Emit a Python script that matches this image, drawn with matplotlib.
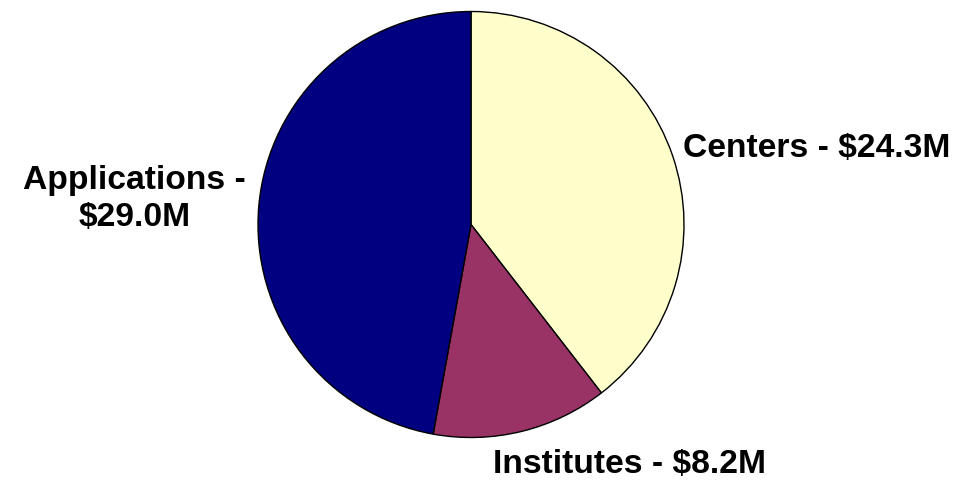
import matplotlib.pyplot as plt

# Funding by program type ($M)
categories = ['Centers', 'Institutes', 'Applications']
values = [24.3, 8.2, 29.0]
colors = ['#FFFFCC', '#993366', '#000080']

W, H = 967, 482
fig = plt.figure(figsize=(W / 100, H / 100), dpi=100)

# pie centre and radius in pixels
cx, cy, r = 471, 224.5, 213
ax = fig.add_axes([(cx - r) / W, (H - cy - r) / H, 2 * r / W, 2 * r / H])
ax.pie(values, colors=colors, startangle=90, counterclock=False,
       wedgeprops=dict(edgecolor='black', linewidth=1))
ax.set_xlim(-1, 1)
ax.set_ylim(-1, 1)
ax.set_aspect('equal')
ax.axis('off')

labels = [f'{c} - ${v:.1f}M' for c, v in zip(categories, values)]
font = dict(family='Liberation Sans', fontweight='bold', fontsize=24.2, color='black')

# Centers
fig.text(683 / W, 1 - 148 / H, labels[0], ha='left', va='center', **font)
# Institutes
fig.text(629.5 / W, 1 - 465 / H, labels[1], ha='center', va='center', **font)
# Applications (wrapped)
fig.text(134.5 / W, 1 - 199 / H, labels[2].replace(' - ', ' -\n'), ha='center',
         va='center', linespacing=1.28, **font)

plt.savefig('out.png', dpi=100)
